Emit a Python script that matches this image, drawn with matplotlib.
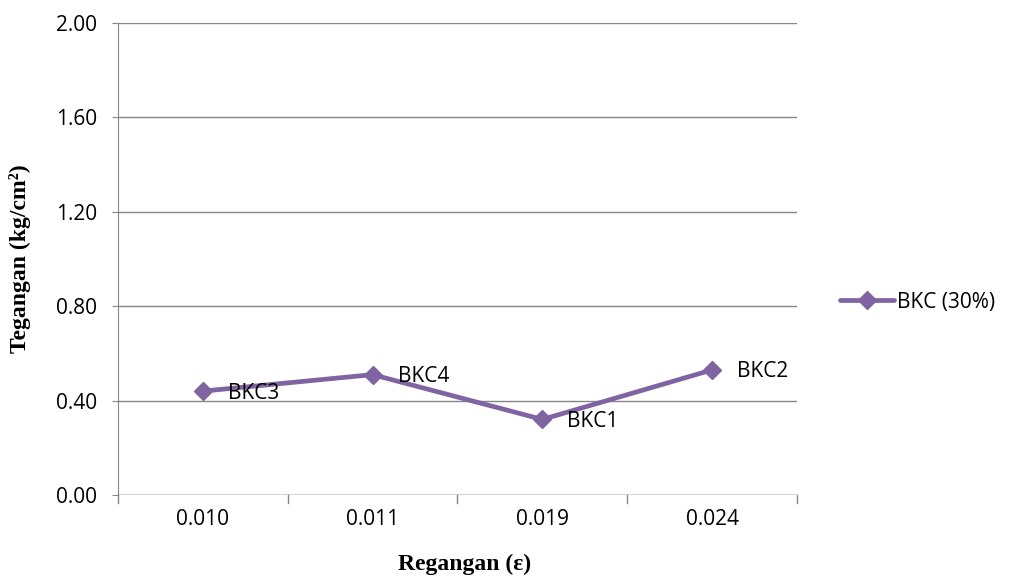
"""Tegangan vs regangan line chart for BKC (30%)."""

import matplotlib
matplotlib.use("Agg")
import matplotlib.pyplot as plt

categories = ["0.010", "0.011", "0.019", "0.024"]
stress = [0.44, 0.51, 0.32, 0.53]
point_labels = ["BKC3", "BKC4", "BKC1", "BKC2"]
series_name = "BKC (30%)"
y_ticks = [0.0, 0.4, 0.8, 1.2, 1.6, 2.0]

PURPLE = "#8064A2"
TICK_FONT = "Open Sans"
AXIS_FONT = "Liberation Serif"
TEXT_SIZE = 15

fig = plt.figure(figsize=(10.12, 5.8), dpi=100)
ax = fig.add_axes([0.1166, 0.1466, 0.6709, 0.8138])

x = list(range(len(categories)))
(line,) = ax.plot(x, stress, color=PURPLE, linewidth=3.4, marker="D",
                  markersize=9, markeredgecolor=PURPLE, label=series_name,
                  solid_capstyle="round", zorder=3)

for xi, yi, lab in zip(x, stress, point_labels):
    ax.annotate(lab, (xi, yi), xytext=(18, -1.5), textcoords="offset points",
                ha="left", va="center", fontsize=TEXT_SIZE, family=TICK_FONT,
                color="black", zorder=4)

ax.set_xlim(-0.5, len(categories) - 0.5)
ax.set_ylim(0, 2.0)
ax.set_xticks(x)
ax.set_xticklabels(categories)
ax.set_yticks(y_ticks)
ax.set_yticklabels([f"{v:.2f}" for v in y_ticks])
ax.yaxis.grid(True, color="#868686", linewidth=1)
ax.set_axisbelow(True)

for lbl in ax.get_xticklabels() + ax.get_yticklabels():
    lbl.set_family(TICK_FONT)
    lbl.set_fontsize(TEXT_SIZE)

ax.tick_params(axis="x", length=0, pad=10)
ax.tick_params(axis="y", length=4, direction="out", color="#868686", pad=11)

for side in ["top", "right"]:
    ax.spines[side].set_visible(False)
ax.spines["bottom"].set_visible(False)
ax.spines["left"].set_color("#868686")

# bottom axis line and category tick marks
ax.axhline(0, color="#868686", linewidth=1, zorder=2)
for b in [i - 0.5 for i in range(len(categories) + 1)]:
    ax.plot([b, b], [0, -0.035], color="#868686", linewidth=1, clip_on=False)

ax.set_xlabel("Regangan (ε)", family=AXIS_FONT, fontweight="bold",
              fontsize=17, labelpad=16)
ax.xaxis.set_label_coords(0.51, -0.125)
ax.set_ylabel("Tegangan (kg/cm²)", family=AXIS_FONT, fontweight="bold",
              fontsize=17, labelpad=18)

fig.legend(handles=[line], loc="center left", bbox_to_anchor=(0.822, 0.479),
           frameon=False, prop={"family": TICK_FONT, "size": TEXT_SIZE},
           handlelength=2.6, handletextpad=0.15, borderaxespad=0)

fig.savefig("out.png", dpi=100)
